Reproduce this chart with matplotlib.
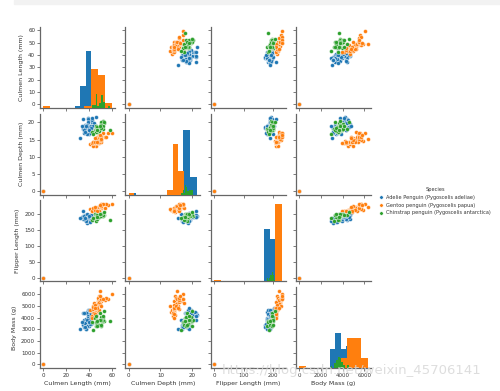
import numpy as np
import matplotlib.pyplot as plt
from matplotlib.patches import Rectangle
from matplotlib.lines import Line2D

species = ["Adelie Penguin (Pygoscelis adeliae)",
           "Gentoo penguin (Pygoscelis papua)",
           "Chinstrap penguin (Pygoscelis antarctica)"]
colors = ["#1f77b4", "#ff7f0e", "#2ca02c"]
var_labels = ["Culmen Length (mm)", "Culmen Depth (mm)",
              "Flipper Length (mm)", "Body Mass (g)"]

adelie_length = [39.1, 39.5, 40.3, 36.7, 39.3, 38.9, 39.2, 34.1, 42.0, 37.8,
                 37.8, 41.1, 38.6, 34.6, 36.6, 38.7, 42.5, 34.4, 46.0, 37.8,
                 37.7, 35.9, 38.2, 38.8, 35.3, 40.6, 40.5, 37.9, 40.5, 39.5,
                 37.2, 39.5, 40.9, 36.4, 39.2, 38.8, 42.2, 37.6, 39.8, 36.5,
                 40.8, 36.0, 44.1, 37.0, 39.6, 41.1, 37.5, 42.3, 35.7, 41.1,
                 33.5, 32.1, 40.2, 43.2, 35.0, 41.5, 38.1, 36.2, 45.8, 39.7, 0]
adelie_depth = [18.7, 17.4, 18.0, 19.3, 20.6, 17.8, 19.6, 18.1, 20.2, 17.1,
                17.3, 17.6, 21.2, 21.1, 17.8, 19.0, 20.7, 18.4, 21.5, 18.3,
                18.7, 19.2, 18.1, 17.2, 18.9, 18.6, 17.9, 18.6, 18.9, 16.7,
                18.1, 17.8, 18.9, 17.0, 21.1, 20.0, 18.5, 19.3, 19.1, 18.0,
                18.4, 18.5, 19.7, 16.9, 18.8, 19.0, 18.9, 21.2, 16.9, 18.2,
                19.0, 15.5, 17.0, 19.0, 17.9, 18.3, 16.5, 17.2, 18.9, 17.7, 0]
adelie_flipper = [181, 186, 195, 193, 190, 181, 195, 193, 190, 186,
                  180, 182, 191, 210, 185, 195, 197, 184, 194, 174,
                  180, 189, 185, 180, 187, 183, 187, 172, 180, 178,
                  178, 188, 184, 195, 196, 190, 180, 181, 184, 182,
                  195, 186, 196, 185, 190, 182, 179, 191, 185, 192,
                  190, 188, 176, 203, 192, 195, 198, 187, 201, 193, 0]
adelie_mass = [3750, 3800, 3550, 3450, 4300, 3625, 4675, 3475, 4250, 3300,
               3700, 3500, 3800, 4400, 4350, 3450, 4500, 3325, 4200, 3400,
               4450, 3800, 4400, 3800, 3800, 4325, 3450, 3150, 3950, 3400,
               3900, 3300, 3900, 3525, 4150, 3950, 3550, 3300, 4650, 3150,
               3900, 3100, 4400, 3000, 4600, 3425, 2975, 4150, 3150, 4050,
               3600, 3050, 3450, 4775, 4350, 4300, 3825, 3150, 4150, 3600, 0]

gentoo_length = [46.1, 50.0, 48.7, 50.0, 47.6, 46.5, 45.4, 46.7, 43.3, 46.8,
                 40.9, 49.0, 45.5, 48.4, 45.8, 49.3, 42.0, 49.2, 46.2, 48.7,
                 50.2, 45.1, 46.3, 42.9, 47.8, 48.2, 47.3, 42.8, 45.1, 59.6,
                 49.1, 48.4, 44.4, 44.0, 48.7, 42.7, 49.6, 45.3, 50.5, 43.6,
                 44.9, 46.6, 50.1, 45.0, 50.4, 53.4, 55.9, 54.3, 52.1, 49.5, 0]
gentoo_depth = [13.2, 16.3, 14.1, 15.2, 14.5, 14.0, 14.6, 15.3, 14.0, 15.4,
                13.7, 16.1, 14.2, 14.6, 14.6, 15.7, 13.9, 15.2, 14.5, 15.1,
                14.3, 14.5, 15.8, 13.1, 15.0, 14.3, 15.3, 14.2, 14.5, 17.0,
                14.8, 16.3, 17.3, 14.0, 15.7, 14.1, 16.0, 14.2, 15.9, 14.4,
                14.3, 14.2, 15.0, 15.4, 15.3, 15.8, 17.0, 15.7, 17.0, 16.2, 0]
gentoo_flipper = [211, 230, 210, 218, 215, 210, 211, 219, 209, 215,
                  214, 216, 214, 213, 210, 217, 210, 221, 209, 222,
                  218, 215, 215, 215, 215, 210, 222, 209, 207, 230,
                  220, 220, 219, 208, 208, 208, 225, 210, 222, 217,
                  213, 210, 225, 220, 224, 219, 228, 231, 230, 229, 0]
gentoo_mass = [4500, 5700, 4450, 5700, 5400, 4550, 4800, 4900, 4400, 4950,
               4650, 5550, 4650, 5850, 4200, 5600, 4150, 6300, 4800, 5350,
               5450, 5000, 4750, 5000, 5650, 4600, 5250, 4700, 4850, 6050,
               5150, 5400, 5250, 4350, 5350, 3950, 5500, 4300, 5550, 4900,
               5100, 4850, 5000, 4800, 5550, 5500, 5600, 5650, 5550, 5800, 0]

chinstrap_length = [46.5, 50.0, 51.3, 45.4, 52.7, 45.2, 46.1, 51.3, 46.0, 51.3,
                    46.6, 51.7, 47.0, 52.0, 45.9, 50.5, 50.3, 58.0, 46.4, 49.2,
                    42.4, 48.5, 43.2, 50.6, 46.7, 52.0, 50.5, 49.5, 46.4, 52.8]
chinstrap_depth = [17.9, 19.5, 19.2, 18.7, 19.8, 17.8, 18.2, 18.2, 18.9, 19.9,
                   17.8, 20.3, 17.3, 18.1, 17.1, 19.6, 20.0, 17.8, 18.6, 18.2,
                   17.3, 17.5, 16.6, 19.4, 17.9, 19.0, 18.4, 19.0, 17.8, 20.0]
chinstrap_flipper = [192, 196, 193, 188, 197, 198, 178, 197, 195, 198,
                     193, 194, 185, 201, 190, 201, 197, 181, 190, 195,
                     181, 191, 187, 193, 195, 197, 200, 200, 191, 205]
chinstrap_mass = [3500, 3900, 3650, 3525, 3725, 3950, 3250, 3750, 4150, 3700,
                  3800, 3775, 3700, 4050, 3575, 4050, 3300, 3700, 3450, 4400,
                  3600, 3400, 2900, 3800, 3300, 4150, 3400, 3800, 3700, 4550]

data = [
    [adelie_length, adelie_depth, adelie_flipper, adelie_mass],
    [gentoo_length, gentoo_depth, gentoo_flipper, gentoo_mass],
    [chinstrap_length, chinstrap_depth, chinstrap_flipper, chinstrap_mass],
]

fig, axes = plt.subplots(4, 4, figsize=(5, 3.91), dpi=100, sharex="col", sharey="row")
fig.subplots_adjust(left=0.08, right=0.742, bottom=0.059, top=0.931,
                    wspace=0.133, hspace=0.07)

diag_axes = []
for i in range(4):
    for j in range(4):
        ax = axes[i, j]
        if i == j:
            # histogram per species on a hidden twin axis, shared by all diagonals
            tw = ax.twinx()
            if diag_axes:
                tw.sharey(diag_axes[0])
            diag_axes.append(tw)
            for s, c in zip(data, colors):
                tw.hist(np.array(s[j], dtype=float), bins=10, color=c)
            tw.axis("off")
        else:
            for s, c in zip(data, colors):
                ax.scatter(s[j], s[i], s=8, color=c, edgecolor="white",
                           linewidth=0.3, zorder=2)
        for side in ["top", "right"]:
            ax.spines[side].set_visible(False)
        for side in ["left", "bottom"]:
            ax.spines[side].set_color("#666666")
            ax.spines[side].set_linewidth(0.9)
        ax.tick_params(labelsize=4, length=2, width=0.6, color="#666666",
                       labelcolor="#333333", pad=1.5)

for i in range(4):
    axes[i, 0].set_ylabel(var_labels[i], fontsize=4.5, color="#333333", labelpad=3)
    axes[3, i].set_xlabel(var_labels[i], fontsize=4.5, color="#333333", labelpad=2)

axes[0, 0].set_yticks([0, 10, 20, 30, 40, 50, 60])
axes[1, 0].set_yticks([0, 5, 10, 15, 20])
axes[2, 0].set_yticks([0, 50, 100, 150, 200])
axes[3, 0].set_yticks([0, 1000, 2000, 3000, 4000, 5000, 6000])
axes[3, 0].set_xticks([0, 20, 40, 60])
axes[3, 1].set_xticks([0, 10, 20])
axes[3, 2].set_xticks([0, 100, 200])
axes[3, 3].set_xticks([0, 2000, 4000, 6000])

handles = [Line2D([], [], marker="o", linestyle="", markersize=2.5, color=c,
                  markeredgecolor="white", markeredgewidth=0.3) for c in colors]
leg = fig.legend(handles, species, loc="center left", bbox_to_anchor=(0.748, 0.485),
                 frameon=False, fontsize=3.6, title="Species", title_fontsize=3.6,
                 labelspacing=0.55, handletextpad=0.6, handlelength=1.0)
for t in leg.get_texts():
    t.set_color("#333333")
leg.get_title().set_color("#333333")

# notebook strip at the top and the blog watermark
fig.patches.append(Rectangle((0.028, 0.99), 0.972, 0.01, transform=fig.transFigure,
                             color="#f2f2f2", zorder=0))
fig.text(0.444, 0.052, "https://blog.csdn.net/weixin_45706141", fontsize=9.5,
         color="#d8d8d8", alpha=0.85, ha="left", va="center")

fig.savefig("out.png", dpi=100)
